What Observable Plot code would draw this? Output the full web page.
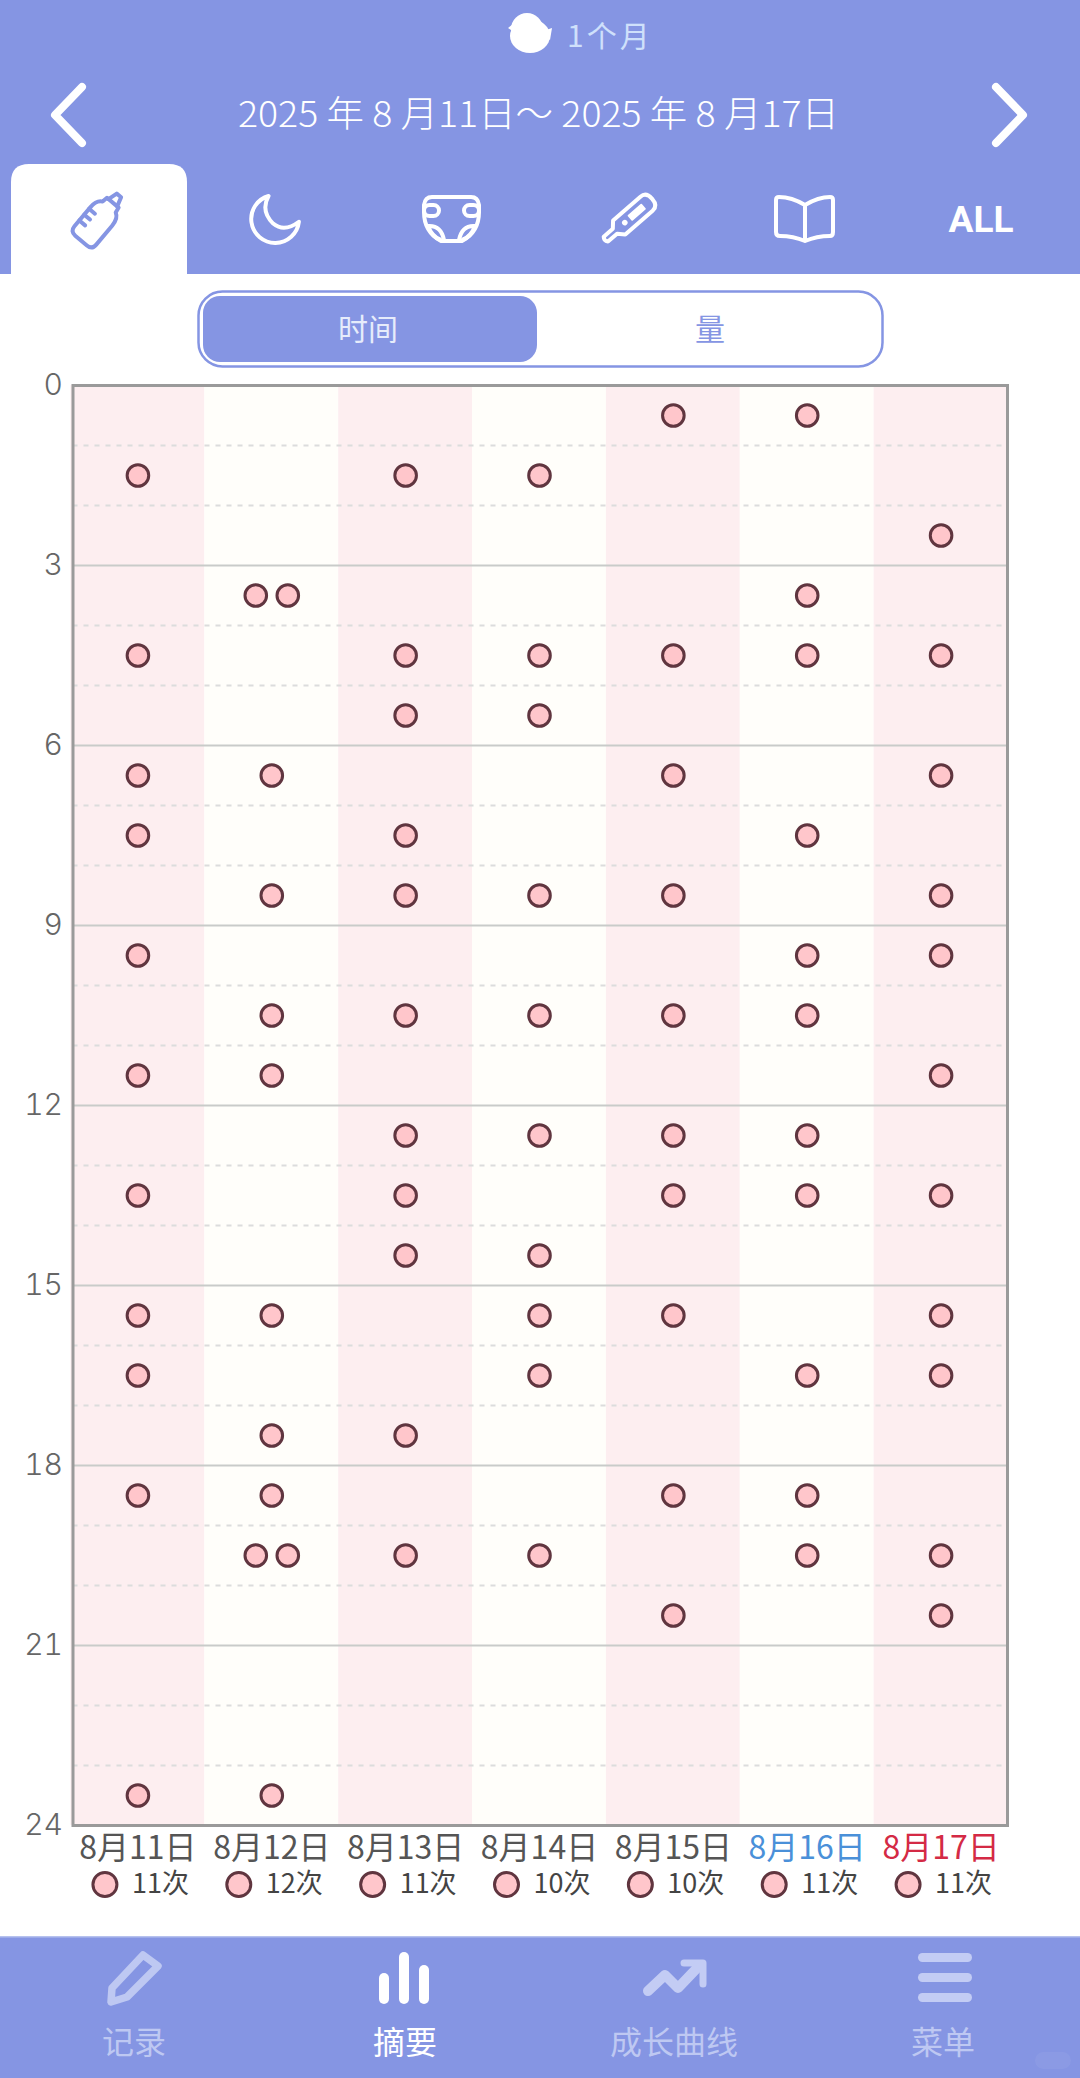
<!DOCTYPE html>
<html lang="zh">
<head>
<meta charset="utf-8">
<script src="https://cdn.jsdelivr.net/npm/d3@7"></script>
<script src="https://cdn.jsdelivr.net/npm/@observablehq/plot@0.6"></script>
<style>
  html,body{margin:0;padding:0;background:#fff;}
  body{width:1080px;height:2078px;overflow:hidden;font-family:"Noto Sans CJK SC","Noto Sans",sans-serif;}
  svg{display:block;}
  #head{position:relative;z-index:1;overflow:visible;}
  #chart{height:1574px;}
</style>
</head>
<body>
<svg id="head" width="1080" height="362" viewBox="0 0 1080 362" font-family="'Noto Sans CJK SC','Noto Sans',sans-serif">
  <rect width="1080" height="274" fill="#8595e3"/>
  <!-- chick -->
  <g fill="#fff">
    <circle cx="527" cy="29" r="16"/><ellipse cx="530" cy="36" rx="20" ry="17"/>
    <path d="M513 24 L508 28 L514 32Z M540 32 L552 28 L550 40Z"/>
  </g>
  <text x="567" y="47" font-size="30" fill="#cfe0fb" letter-spacing="3">1个月</text>
  <!-- arrows -->
  <g fill="none" stroke="#fff" stroke-width="8" stroke-linecap="round" stroke-linejoin="round">
    <path d="M82 87 L55 115 L82 143"/><path d="M996 87 L1023 115 L996 143"/>
  </g>
  <text x="538.5" y="127" font-size="36" font-weight="300" fill="#fff" text-anchor="middle" textLength="601" lengthAdjust="spacingAndGlyphs">2025 年 8 月11日～ 2025 年 8 月17日</text>
  <!-- active tab -->
  <path d="M11 274 V182 Q11 164 29 164 H169 Q187 164 187 182 V274Z" fill="#fff"/>
  <!-- bottle -->
  <g transform="translate(100,218) rotate(40) scale(0.95)" fill="none" stroke="#8595e3" stroke-width="4.2" stroke-linecap="round" stroke-linejoin="round">
    <path d="M-15 -2 Q-15 -12 -9 -15 L-8 -21 H8 L9 -15 Q15 -12 15 -2 V24 Q15 31 8 31 H-8 Q-15 31 -15 24Z"/>
    <path d="M-6 -21 L-3 -31 H3 L6 -21"/>
    <path d="M-15 0 H-7 M-15 8 H-7 M-15 16 H-7"/>
  </g>
  <!-- moon -->
  <g transform="translate(275,219) scale(0.92) translate(-274,-219)">
    <path d="M267 194 A26 26 0 1 0 300 222 Q284 234 272 224 Q258 210 267 194Z" fill="none" stroke="#fff" stroke-width="4.3" stroke-linejoin="round"/>
  </g>
  <!-- diaper -->
  <g fill="none" stroke="#fff" stroke-width="4" stroke-linejoin="round">
    <path d="M432 197 H471 Q478 197 479 205 V212 Q479 232 462 241 H441 Q424 232 424 212 V205 Q425 197 432 197Z"/>
    <rect x="424" y="205" width="15" height="11" rx="5.5"/><rect x="464" y="205" width="15" height="11" rx="5.5"/>
    <path d="M428 226 Q441 225 444 240 M475 226 Q462 225 459 240 M428 226 Q432 237 441 240 M475 226 Q471 237 462 240"/>
  </g>
  <!-- thermometer -->
  <g transform="translate(629,219) rotate(-41) scale(0.93)" stroke="#fff" stroke-linejoin="round">
    <path d="M-33 -3.5 H-20 L-14 -10 H25 Q33 -10 33 0 Q33 10 25 10 H-14 L-20 3.5 H-33 Q-36 0 -33 -3.5Z" fill="none" stroke-width="4.3"/>
    <rect x="-9" y="-3" width="6" height="6" rx="3" fill="#fff" stroke="none"/>
    <rect x="1" y="-4" width="20" height="8" rx="1" fill="#fff" stroke="none"/>
  </g>
  <!-- book -->
  <path d="M805 205 C795 199 785 197 779 197 Q776 197 776 200 V232 Q776 236 780 236 C790 236 798 238 805 241 C812 238 820 236 830 236 Q833 236 833 232 V200 Q833 197 830 197 C824 197 815 199 805 205Z M805 205 V241" fill="none" stroke="#fff" stroke-width="4" stroke-linejoin="round"/>
  <text x="981" y="232" font-size="37" font-weight="700" fill="#fff" text-anchor="middle" font-family="Roboto,'Noto Sans',sans-serif">ALL</text>
  <!-- segmented control -->
  <rect x="198.5" y="291.5" width="684" height="75" rx="24" fill="#fff" stroke="#8595e3" stroke-width="2.5"/>
  <rect x="203" y="296" width="334" height="66" rx="17" fill="#8595e3"/>
  <text x="368" y="340" font-size="30" fill="#e6ecfb" text-anchor="middle">时间</text>
  <text x="710" y="340" font-size="30" fill="#8595e3" text-anchor="middle">量</text>
</svg>
<div id="chart"></div>
<svg width="1080" height="142" viewBox="0 1936 1080 142" font-family="'Noto Sans CJK SC','Noto Sans',sans-serif">
  <rect x="0" y="1936" width="1080" height="142" fill="#8595e3"/>
  <rect x="0" y="1936" width="1080" height="1.5" fill="#b6c1ee"/>
  <path d="M111 2002 L112 1988 L143 1955 L158 1966 L127 1997Z" fill="none" stroke="#bec8f2" stroke-width="7.5" stroke-linejoin="round"/>
  <g fill="#fff">
    <rect x="379" y="1973" width="10" height="31" rx="5"/><rect x="399" y="1952" width="10" height="52" rx="5"/><rect x="419" y="1965" width="10" height="39" rx="5"/>
  </g>
  <g fill="none" stroke="#c3ccf4" stroke-width="10" stroke-linecap="round" stroke-linejoin="round">
    <path d="M648 1991 L665 1975 L678 1988 L699 1966"/>
    <path d="M684 1963 H703 V1984" stroke-width="7"/>
  </g>
  <g fill="#c3ccf4">
    <rect x="918" y="1953" width="54" height="9" rx="4.5"/><rect x="918" y="1973" width="54" height="9" rx="4.5"/><rect x="918" y="1993" width="54" height="9" rx="4.5"/>
  </g>
  <g font-size="32" text-anchor="middle" fill="#bec8f2">
    <text x="134" y="2054">记录</text>
    <text x="405" y="2054" fill="#fff">摘要</text>
    <text x="674" y="2054">成长曲线</text>
    <text x="943" y="2054">菜单</text>
  </g>
  <rect x="1035" y="2052" width="36" height="17" rx="8.5" fill="#fff" opacity="0.05"/>
</svg>
<script>
// ---- data ----
const days = ["8月11日","8月12日","8月13日","8月14日","8月15日","8月16日","8月17日"];
const counts = ["11次","12次","11次","10次","10次","11次","11次"];
const hoursAug11 = [1.5,4.5,6.5,7.5,9.5,11.5,13.5,15.5,16.5,18.5,23.5];
const hoursAug12 = [3.5,3.5,6.5,8.5,10.5,11.5,15.5,17.5,18.5,19.5,19.5,23.5];
const hoursAug13 = [1.5,4.5,5.5,7.5,8.5,10.5,12.5,13.5,14.5,17.5,19.5];
const hoursAug14 = [1.5,4.5,5.5,8.5,10.5,12.5,14.5,15.5,16.5,19.5];
const hoursAug15 = [0.5,4.5,6.5,8.5,10.5,12.5,13.5,15.5,18.5,20.5];
const hoursAug16 = [0.5,3.5,4.5,7.5,9.5,10.5,12.5,13.5,16.5,18.5,19.5];
const hoursAug17 = [2.5,4.5,6.5,8.5,9.5,11.5,13.5,15.5,16.5,19.5,20.5];
const majorHours = [0,3,6,9,12,15,18,21,24];
const minorHours = [1,2,4,5,7,8,10,11,13,14,16,17,19,20,22,23];
const columnFills = ["#fdeef0","#fffefa","#fdeef0","#fffefa","#fdeef0","#fffefa","#fdeef0"];
const labelFills = ["#555555","#555555","#555555","#555555","#555555","#4a90d9","#d42a45"];

const perDay = [hoursAug11,hoursAug12,hoursAug13,hoursAug14,hoursAug15,hoursAug16,hoursAug17];
const feeds = days.flatMap((day,i)=>perDay[i].map((hour,k)=>{
  const same = perDay[i].filter(h=>h===hour).length;
  const seat = same===1 ? 0 : (perDay[i].indexOf(hour)===k ? -1 : 1);
  return {day,hour,seat};
}));
const table = days.map((day,i)=>({day,count:counts[i],col:columnFills[i],lab:labelFills[i]}));
const dotStyle = {x:"day",y:"hour",r:10.8,fill:"#ffc6cb",stroke:"#60353f",strokeWidth:3};
const FONT = "'Noto Sans CJK SC','Noto Sans',sans-serif";

const chart = Plot.plot({
  width:1080,height:1574,
  marginTop:23,marginBottom:111,marginLeft:72.5,marginRight:73,
  style:{fontFamily:FONT,background:"#fff"},
  x:{domain:days,range:[70.5,1007.5],padding:0,round:false,axis:null},
  y:{domain:[0,24],reverse:true,axis:null},
  marks:[
    Plot.barY(table,{x:"day",y1:()=>0,y2:()=>24,fill:d=>d.col}),
    Plot.ruleY(minorHours,{stroke:"#dcdcdc",strokeWidth:2,strokeDasharray:"5,6"}),
    Plot.ruleY(majorHours,{stroke:"#c9cbc9",strokeWidth:2}),
    Plot.frame({stroke:"#9a9a9a",strokeWidth:3}),
    Plot.axisY(majorHours,{anchor:"left",tickSize:0,tickPadding:10,fontSize:30,fontFamily:"Inter, 'Noto Sans', sans-serif",fontWeight:300,color:"#666",label:null,tickFormat:d=>d}),
    Plot.dot(feeds.filter(d=>d.seat===0),dotStyle),
    Plot.dot(feeds.filter(d=>d.seat===-1),{...dotStyle,dx:-16}),
    Plot.dot(feeds.filter(d=>d.seat===1),{...dotStyle,dx:16}),
    Plot.text(table,{x:"day",y:()=>24,text:"day",dy:23,fontSize:32,fill:d=>d.lab}),
    Plot.dot(table,{x:"day",y:()=>24,dy:59,dx:-33,r:12,fill:"#ffc6cb",stroke:"#60353f",strokeWidth:3}),
    Plot.text(table,{x:"day",y:()=>24,text:"count",dy:59,dx:-6,textAnchor:"start",fontSize:27,fill:"#444"})
  ]
});
document.getElementById("chart").appendChild(chart);
</script>
</body>
</html>
